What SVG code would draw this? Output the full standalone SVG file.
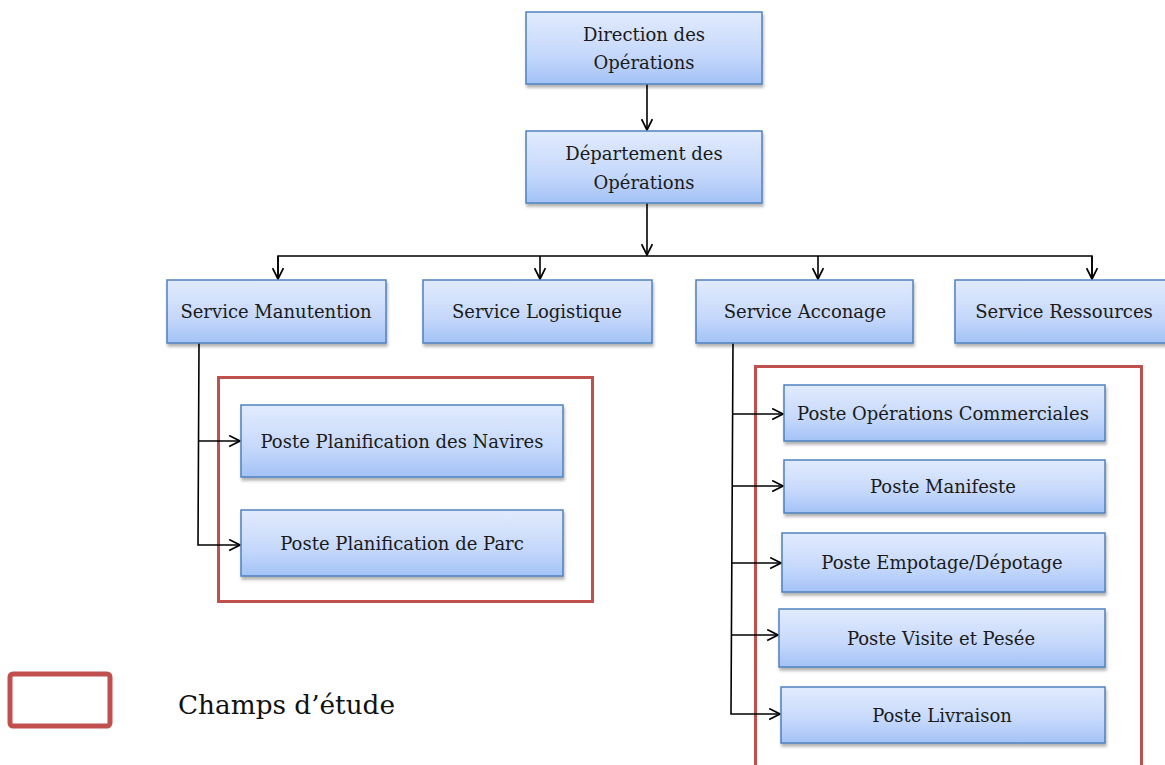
<svg xmlns="http://www.w3.org/2000/svg" width="1165" height="765" viewBox="0 0 1165 765">
  <defs>
    <linearGradient id="boxFill" x1="0" y1="0" x2="0" y2="1">
      <stop offset="0" stop-color="#e2ebfd"/>
      <stop offset="0.6" stop-color="#c5d8fb"/>
      <stop offset="1" stop-color="#a3c2f6"/>
    </linearGradient>
    <filter id="shadow" x="-5%" y="-10%" width="110%" height="130%">
      <feDropShadow dx="1" dy="3" stdDeviation="1.5" flood-color="#000" flood-opacity="0.3"/>
    </filter>
    <marker id="arrow" viewBox="0 0 12 12" refX="11" refY="6" markerWidth="13" markerHeight="13" markerUnits="userSpaceOnUse" orient="auto">
      <path d="M1,1 L11,6 L1,11" fill="none" stroke="#000" stroke-width="1.6"/>
    </marker>
  </defs>
  <style>
    .box { fill: url(#boxFill); stroke: #4f81bd; stroke-width: 1.5; filter: url(#shadow); }
    .lbl { font-family: "DejaVu Serif", "Liberation Serif", serif; font-size: 18px; fill: #1a1a1a; text-anchor: middle; }
    .conn { fill: none; stroke: #000; stroke-width: 1.6; }
    .zone { fill: none; stroke: #c0504d; stroke-width: 3; }
  </style>

  <rect width="1165" height="765" fill="#fff"/>

  <!-- study zones -->
  <rect class="zone" x="218.5" y="377.5" width="374" height="224"/>
  <rect class="zone" x="755.5" y="366.5" width="386" height="400"/>

  <g id="connectors">
    <line class="conn" x1="647" y1="84" x2="647" y2="130" marker-end="url(#arrow)"/>
    <line class="conn" x1="647" y1="203" x2="647" y2="255" marker-end="url(#arrow)"/>
    <polyline class="conn" points="278,279 278,256 1092,256 1092,279"/>
    <line class="conn" x1="278" y1="256" x2="278" y2="279" marker-end="url(#arrow)"/>
    <line class="conn" x1="540" y1="256" x2="540" y2="279" marker-end="url(#arrow)"/>
    <line class="conn" x1="818" y1="256" x2="818" y2="279" marker-end="url(#arrow)"/>
    <line class="conn" x1="1092" y1="256" x2="1092" y2="279" marker-end="url(#arrow)"/>
    <!-- Manutention branch -->
    <polyline class="conn" points="199,343 198,545 240,545" marker-end="url(#arrow)"/>
    <line class="conn" x1="199" y1="441" x2="240" y2="441" marker-end="url(#arrow)"/>
    <!-- Acconage branch -->
    <polyline class="conn" points="733,343 731,714 780,714" marker-end="url(#arrow)"/>
    <line class="conn" x1="733" y1="414" x2="783" y2="414" marker-end="url(#arrow)"/>
    <line class="conn" x1="732" y1="486" x2="783" y2="486" marker-end="url(#arrow)"/>
    <line class="conn" x1="732" y1="563" x2="781" y2="563" marker-end="url(#arrow)"/>
    <line class="conn" x1="732" y1="635" x2="778" y2="635" marker-end="url(#arrow)"/>
  </g>

  <g id="direction">
    <rect class="box" x="526" y="12" width="236" height="72"/>
    <text class="lbl" x="644" y="41">Direction des</text>
    <text class="lbl" x="644" y="69">Opérations</text>
  </g>
  <g id="departement">
    <rect class="box" x="526" y="131" width="236" height="72"/>
    <text class="lbl" x="644" y="160">Département des</text>
    <text class="lbl" x="644" y="189">Opérations</text>
  </g>
  <g id="service-manutention">
    <rect class="box" x="167" y="280" width="219" height="63"/>
    <text class="lbl" x="276" y="318">Service Manutention</text>
  </g>
  <g id="service-logistique">
    <rect class="box" x="423" y="280" width="229" height="63"/>
    <text class="lbl" x="537" y="318">Service Logistique</text>
  </g>
  <g id="service-acconage">
    <rect class="box" x="696" y="280" width="217" height="63"/>
    <text class="lbl" x="805" y="318">Service Acconage</text>
  </g>
  <g id="service-ressources">
    <rect class="box" x="955" y="280" width="215" height="63"/>
    <text class="lbl" x="1064" y="318">Service Ressources</text>
  </g>

  <g id="poste-navires">
    <rect class="box" x="241" y="405" width="322" height="72"/>
    <text class="lbl" x="402" y="448">Poste Planification des Navires</text>
  </g>
  <g id="poste-parc">
    <rect class="box" x="241" y="510" width="322" height="66"/>
    <text class="lbl" x="402" y="550">Poste Planification de Parc</text>
  </g>

  <g id="poste-commerciales">
    <rect class="box" x="784" y="385" width="321" height="56"/>
    <text class="lbl" x="943" y="420">Poste Opérations Commerciales</text>
  </g>
  <g id="poste-manifeste">
    <rect class="box" x="784" y="460" width="321" height="53"/>
    <text class="lbl" x="943" y="493">Poste Manifeste</text>
  </g>
  <g id="poste-empotage">
    <rect class="box" x="782" y="533" width="323" height="59"/>
    <text class="lbl" x="942" y="569">Poste Empotage/Dépotage</text>
  </g>
  <g id="poste-visite">
    <rect class="box" x="779" y="609" width="326" height="58"/>
    <text class="lbl" x="941" y="645">Poste Visite et Pesée</text>
  </g>
  <g id="poste-livraison">
    <rect class="box" x="781" y="687" width="324" height="56"/>
    <text class="lbl" x="942" y="722">Poste Livraison</text>
  </g>

  <g id="legend">
    <rect x="10" y="674" width="100" height="52" rx="3" fill="none" stroke="#c0504d" stroke-width="5"/>
    <text x="178" y="714" font-family="DejaVu Serif, Liberation Serif, serif" font-size="26.3" fill="#111">Champs d’étude</text>
  </g>
</svg>
